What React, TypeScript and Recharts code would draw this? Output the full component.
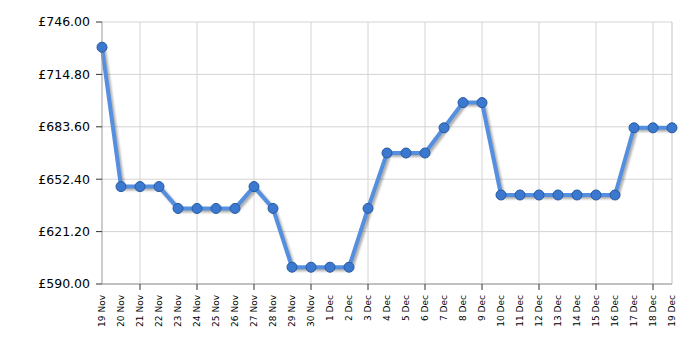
import { LineChart, Line, XAxis, YAxis, CartesianGrid, ReferenceLine } from 'recharts';

const dates = [
  '19 Nov', '20 Nov', '21 Nov', '22 Nov', '23 Nov', '24 Nov', '25 Nov', '26 Nov', '27 Nov', '28 Nov',
  '29 Nov', '30 Nov', '1 Dec', '2 Dec', '3 Dec', '4 Dec', '5 Dec', '6 Dec', '7 Dec', '8 Dec',
  '9 Dec', '10 Dec', '11 Dec', '12 Dec', '13 Dec', '14 Dec', '15 Dec', '16 Dec', '17 Dec', '18 Dec', '19 Dec',
];

const prices = [
  731, 648, 648, 648, 635, 635, 635, 635, 648, 635,
  600, 600, 600, 600, 635, 668, 668, 668, 683, 698,
  698, 643, 643, 643, 643, 643, 643, 643, 683, 683, 683,
];

const yTicks = [590, 621.2, 652.4, 683.6, 714.8, 746];

// vertical grid lines every 3 days
const gridDates = ['21 Nov', '24 Nov', '27 Nov', '30 Nov', '3 Dec', '6 Dec', '9 Dec', '12 Dec', '15 Dec', '18 Dec'];

const data = dates.map((d, i) => ({ date: d, price: prices[i] }));

const font = 'Verdana, "DejaVu Sans", sans-serif';

function DateTick(props: any) {
  const { x, y, payload } = props;
  const marked = gridDates.includes(payload.value);
  return (
    <g transform={`translate(${x},${y})`}>
      {marked && <line x1={0} x2={0} y1={-11} y2={-5} stroke="#333" strokeWidth={1} />}
      <text
        transform="rotate(-90)"
        textAnchor="end"
        dy="0.35em"
        fontSize={9}
        fontFamily={font}
        fill="#000"
      >
        {payload.value}
      </text>
    </g>
  );
}

export default function App() {
  return (
    <div style={{ width: 700, height: 350, background: '#fff' }}>
      <style>{`
        body { margin: 0; }
        .price-line .recharts-line-curve, .price-line .recharts-line-dots {
          filter: drop-shadow(2px 2px 1.2px rgba(0,0,0,0.32));
        }
      `}</style>
      <LineChart width={700} height={350} data={data} margin={{ top: 22, right: 28, left: 0, bottom: 0 }}>
        <CartesianGrid vertical={false} stroke="#d4d4d4" />
        {gridDates.map(d => (
          <ReferenceLine key={d} x={d} stroke="#d4d4d4" />
        ))}
        <ReferenceLine x={dates[dates.length - 1]} stroke="#c4c4c4" />
        <XAxis
          dataKey="date"
          interval={0}
          height={66}
          tickLine={false}
          tickSize={5}
          tickMargin={6}
          axisLine={{ stroke: '#999' }}
          tick={<DateTick />}
        />
        <YAxis
          domain={[590, 746]}
          ticks={yTicks}
          width={102}
          tickSize={6}
          tickMargin={6}
          axisLine={{ stroke: '#999' }}
          tickLine={{ stroke: '#333' }}
          tickFormatter={(v: number) => '£' + v.toFixed(2)}
          tick={{ fontSize: 12.5, fontFamily: font, fill: '#000' }}
          allowDataOverflow
        />
        <Line
          className="price-line"
          type="linear"
          dataKey="price"
          stroke="#5590e0"
          strokeWidth={4}
          dot={{ r: 5, fill: '#3b78d0', stroke: '#2a5aa0', strokeWidth: 1 }}
          isAnimationActive={false}
        />
      </LineChart>
    </div>
  );
}
